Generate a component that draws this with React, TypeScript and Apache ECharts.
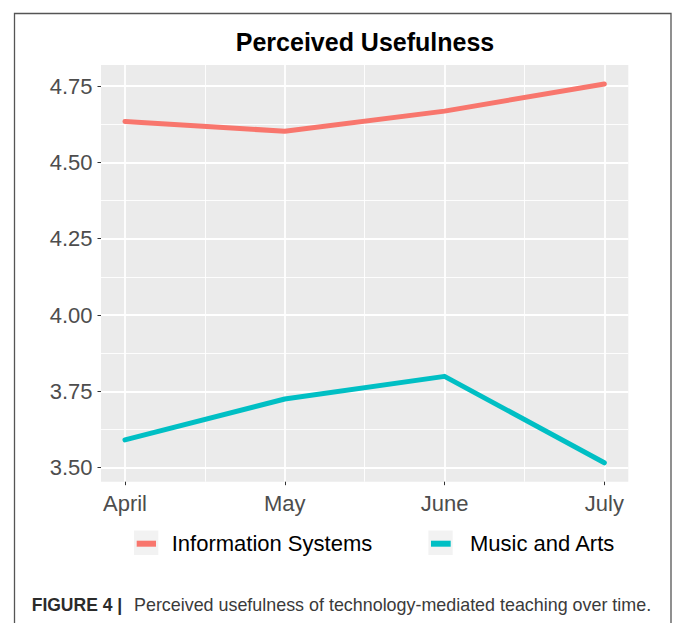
import React, { useEffect, useRef } from "react";
import * as echarts from "echarts";

const months = ["April", "May", "June", "July"];
const infoSystems = [4.634, 4.602, 4.668, 4.757];
const musicArts = [3.591, 3.725, 3.799, 3.516];
const yTicks = [3.5, 3.75, 4.0, 4.25, 4.5, 4.75];
const yMinor = [3.625, 3.875, 4.125, 4.375, 4.625];
const xTicks = [1, 2, 3, 4];
const xMinor = [1.5, 2.5, 3.5];
const seriesNames = ["Information Systems", "Music and Arts"];
const seriesColors = ["#F8766D", "#00BFC4"];

const FONT = '"Liberation Sans", Arial, Helvetica, sans-serif';

export default function App() {
  const ref = useRef<HTMLDivElement>(null);

  useEffect(() => {
    if (!ref.current) return;
    const chart = echarts.init(ref.current, null, { renderer: "svg" });

    const all = [...infoSystems, ...musicArts];
    const dMin = Math.min(...all);
    const dMax = Math.max(...all);
    const yPad = (dMax - dMin) * 0.05;
    const xPad = (xTicks[xTicks.length - 1] - xTicks[0]) * 0.05;
    const xMin = xTicks[0] - xPad;
    const xMax = xTicks[xTicks.length - 1] + xPad;
    const yMin = dMin - yPad;
    const yMax = dMax + yPad;

    const toPoints = (vals: number[]) => vals.map((v, i) => [xTicks[i], v]);

    const legendBase = {
      orient: "horizontal",
      padding: 0,
      itemHeight: 24,
      top: 531.5,
      itemStyle: { borderWidth: 0 },
      textStyle: { fontSize: 22, color: "#000", fontFamily: FONT },
      selectedMode: false,
    };

    chart.setOption({
      animation: false,
      backgroundColor: "#fff",
      grid: {
        left: 101,
        right: 44.7,
        top: 65,
        bottom: 141.3,
        show: true,
        backgroundColor: "#EBEBEB",
        borderWidth: 0,
      },
      xAxis: [
        {
          type: "value",
          min: xMin,
          max: xMax,
          axisLine: { show: false },
          axisTick: {
            show: true,
            customValues: xTicks,
            length: 3.5,
            lineStyle: { color: "#333", width: 1 },
          },
          axisLabel: {
            customValues: xTicks,
            formatter: (v: number) => months[Math.round(v) - 1] ?? "",
            fontSize: 22,
            color: "#4D4D4D",
            fontFamily: FONT,
            margin: 11,
          },
          splitLine: { show: true, lineStyle: { color: "#fff", width: 1.8 } },
        },
        {
          type: "value",
          position: "bottom",
          min: xMin,
          max: xMax,
          axisLine: { show: false },
          axisTick: { show: false, customValues: xMinor },
          axisLabel: { show: false, customValues: xMinor },
          splitLine: { show: true, lineStyle: { color: "#fff", width: 0.9 } },
        },
      ],
      yAxis: [
        {
          type: "value",
          min: yMin,
          max: yMax,
          axisLine: { show: false },
          axisTick: {
            show: true,
            customValues: yTicks,
            length: 3.5,
            lineStyle: { color: "#333", width: 1 },
          },
          axisLabel: {
            customValues: yTicks,
            formatter: (v: number) => v.toFixed(2),
            fontSize: 22,
            color: "#4D4D4D",
            fontFamily: FONT,
            margin: 8.5,
            padding: [0, 0, 6, 0],
          },
          splitLine: { show: true, lineStyle: { color: "#fff", width: 1.8 } },
        },
        {
          type: "value",
          position: "left",
          min: yMin,
          max: yMax,
          axisLine: { show: false },
          axisTick: { show: false, customValues: yMinor },
          axisLabel: { show: false, customValues: yMinor },
          splitLine: { show: true, lineStyle: { color: "#fff", width: 0.9 } },
        },
      ],
      legend: [
        {
          ...legendBase,
          data: [seriesNames[0]],
          left: 134,
          itemWidth: 32.7,
          icon: "path://M0,0M32.7,24M2.7,9.2L22,9.2L22,15.2L2.7,15.2Z",
        },
        {
          ...legendBase,
          data: [seriesNames[1]],
          left: 428.4,
          itemWidth: 36.6,
          icon: "path://M0,0M36.6,24M2.6,9.2L22.3,9.2L22.3,15.2L2.6,15.2Z",
        },
      ],
      graphic: [
        {
          type: "rect",
          silent: true,
          z: -10,
          shape: { x: 14.5, y: 13.5, width: 656.5, height: 660 },
          style: { fill: "none", stroke: "#555", lineWidth: 1.3 },
        },
        {
          type: "rect",
          silent: true,
          shape: { x: 134, y: 530.5, width: 24.3, height: 24.5 },
          style: { fill: "#F2F2F2" },
        },
        {
          type: "rect",
          silent: true,
          shape: { x: 428.4, y: 530.5, width: 24.3, height: 24.5 },
          style: { fill: "#F2F2F2" },
        },
        {
          type: "text",
          x: 365,
          y: 42,
          silent: true,
          style: {
            text: "Perceived Usefulness",
            fontSize: 25,
            fontWeight: "bold",
            fontFamily: FONT,
            fill: "#000",
            align: "center",
            verticalAlign: "middle",
          },
        },
        {
          type: "text",
          x: 31.7,
          y: 605,
          silent: true,
          style: {
            text: "FIGURE 4 |",
            fontSize: 17.5,
            fontWeight: "bold",
            fontFamily: FONT,
            fill: "#2b2b2b",
            align: "left",
            verticalAlign: "middle",
          },
        },
        {
          type: "text",
          x: 134,
          y: 605,
          silent: true,
          style: {
            text: "Perceived usefulness of technology-mediated teaching over time.",
            fontSize: 17.9,
            fontFamily: FONT,
            fill: "#3a3a3a",
            align: "left",
            verticalAlign: "middle",
          },
        },
      ],
      series: [
        {
          name: seriesNames[0],
          type: "line",
          data: toPoints(infoSystems),
          showSymbol: false,
          symbol: "none",
          color: seriesColors[0],
          lineStyle: { width: 5, color: seriesColors[0], cap: "round", join: "round" },
          clip: false,
        },
        {
          name: seriesNames[1],
          type: "line",
          data: toPoints(musicArts),
          showSymbol: false,
          symbol: "none",
          color: seriesColors[1],
          lineStyle: { width: 5, color: seriesColors[1], cap: "round", join: "round" },
          clip: false,
        },
      ],
    });

    return () => chart.dispose();
  }, []);

  return (
    <div
      ref={ref}
      style={{ position: "absolute", left: 0, top: 0, width: 673, height: 623 }}
    />
  );
}
